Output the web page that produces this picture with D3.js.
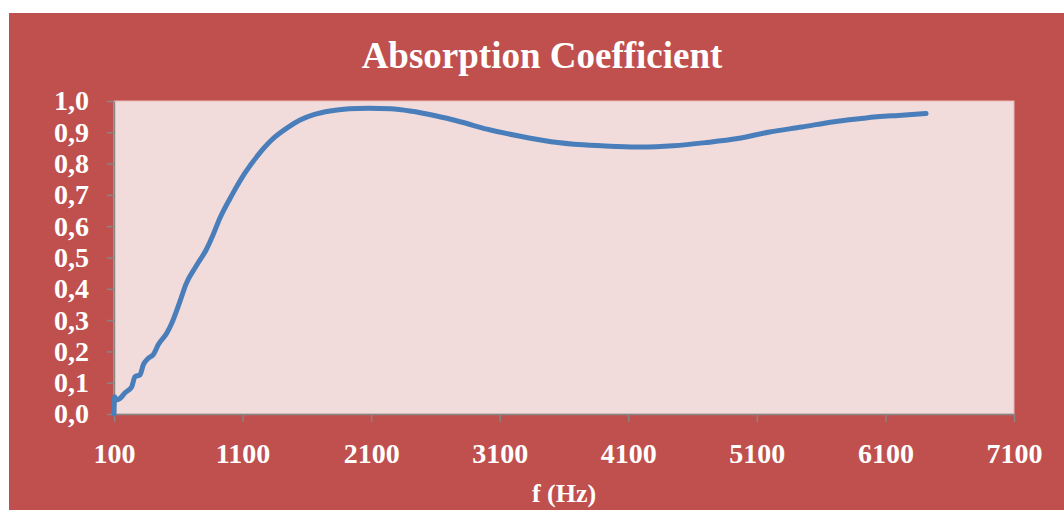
<!DOCTYPE html>
<html>
<head>
<meta charset="utf-8">
<script src="https://cdn.jsdelivr.net/npm/d3@7"></script>
<style>
  html, body { margin: 0; padding: 0; background: #ffffff; }
  svg { display: block; }
</style>
</head>
<body>
<svg id="chart" width="1064" height="510"></svg>
<script>
const title = "Absorption Coefficient";
const xLabel = "f (Hz)";
const xTicks = [100, 1100, 2100, 3100, 4100, 5100, 6100, 7100];
const yTicks = [0, 0.1, 0.2, 0.3, 0.4, 0.5, 0.6, 0.7, 0.8, 0.9, 1.0];
const freq = [100, 105, 115, 147, 186, 238, 263, 302, 328, 367, 406, 445, 510, 549, 613, 660, 738, 816, 870, 924, 1018, 1119, 1220, 1352, 1450, 1547, 1660, 1780, 1930, 2080, 2250, 2402, 2600, 2800, 3000, 3250, 3500, 3750, 4000, 4200, 4450, 4700, 4950, 5200, 5450, 5700, 5950, 6200, 6416];
const absorption = [0.0, 0.055, 0.045, 0.05, 0.068, 0.087, 0.119, 0.125, 0.157, 0.178, 0.19, 0.222, 0.258, 0.29, 0.36, 0.415, 0.472, 0.524, 0.572, 0.626, 0.70, 0.77, 0.827, 0.885, 0.915, 0.939, 0.957, 0.968, 0.975, 0.977, 0.975, 0.968, 0.953, 0.933, 0.91, 0.888, 0.87, 0.86, 0.855, 0.853, 0.857, 0.867, 0.88, 0.901, 0.917, 0.934, 0.946, 0.954, 0.96];

const svg = d3.select("#chart");
const font = "'Liberation Serif', 'Times New Roman', serif";

// chart background
svg.append("rect").attr("x", 9).attr("y", 13).attr("width", 1055).attr("height", 497).attr("fill", "#C0504D");

const plot = { left: 114, right: 1014, top: 101, bottom: 414 };
const x = d3.scaleLinear().domain([100, 7100]).range([plot.left, plot.right]);
const y = d3.scaleLinear().domain([0, 1]).range([plot.bottom, plot.top]);

svg.append("rect").attr("x", plot.left).attr("y", plot.top)
  .attr("width", plot.right - plot.left).attr("height", plot.bottom - plot.top)
  .attr("fill", "#F2DCDB").attr("stroke", "#E6B9B8").attr("stroke-width", 1);

// axes
const fmt = d => d3.format(".1f")(d).replace(".", ",");
const yAxis = svg.append("g").attr("transform", `translate(${plot.left},0)`)
  .call(d3.axisLeft(y).tickValues(yTicks).tickFormat(fmt).tickSizeInner(7).tickSizeOuter(0).tickPadding(18));
const xAxis = svg.append("g").attr("transform", `translate(0,${plot.bottom})`)
  .call(d3.axisBottom(x).tickValues(xTicks).tickFormat(d3.format("d")).tickSizeInner(8).tickSizeOuter(0).tickPadding(21));

[yAxis, xAxis].forEach(g => {
  g.select(".domain").attr("stroke", "#868686").attr("stroke-width", 1.5);
  g.selectAll(".tick line").attr("stroke", "#868686").attr("stroke-width", 1.5);
  g.selectAll(".tick text").attr("fill", "#ffffff")
    .style("font-family", font).style("font-weight", "bold").style("font-size", "28px");
});

// line
const data = freq.map((f, i) => ({ f, v: absorption[i] }));
svg.append("path").datum(data)
  .attr("d", d3.line().x(d => x(d.f)).y(d => y(d.v)).curve(d3.curveMonotoneX))
  .attr("fill", "none").attr("stroke", "#4A7EBB").attr("stroke-width", 5)
  .attr("stroke-linecap", "round").attr("stroke-linejoin", "round");

// titles
svg.append("text").attr("x", 542).attr("y", 68).attr("text-anchor", "middle")
  .attr("fill", "#ffffff").style("font-family", font).style("font-weight", "bold").style("font-size", "37px")
  .text(title);
svg.append("text").attr("x", 564).attr("y", 502).attr("text-anchor", "middle")
  .attr("fill", "#ffffff").style("font-family", font).style("font-weight", "bold").style("font-size", "26px")
  .text(xLabel);
</script>
</body>
</html>
